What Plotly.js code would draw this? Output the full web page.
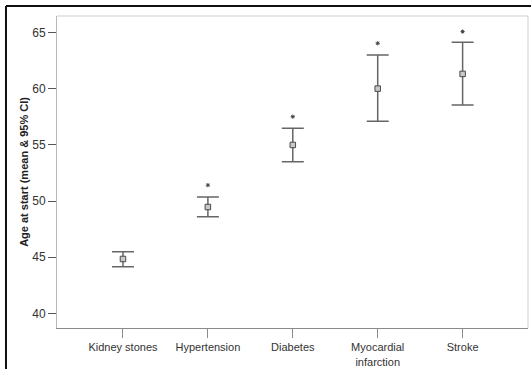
<!DOCTYPE html>
<html>
<head>
<meta charset="utf-8">
<script src="https://cdn.plot.ly/plotly-3.0.1.min.js"></script>
<style>
  html, body { margin: 0; padding: 0; background: #fff; }
  #chart { width: 531px; height: 369px; }
</style>
</head>
<body>
<div id="chart"></div>
<script>
// Data
const categories = ["Kidney stones", "Hypertension", "Diabetes", "Myocardial<br>infarction", "Stroke"];
const meanAge   = [44.84, 49.47, 55.00, 60.02, 61.33];
const ciUpper   = [45.49, 50.37, 56.49, 63.02, 64.15];
const ciLower   = [44.15, 48.61, 53.51, 57.11, 58.57];
const starCats  = ["Hypertension", "Diabetes", "Myocardial<br>infarction", "Stroke"];
const starY     = [51.42, 57.52, 64.06, 65.10];
const yTicks    = [40, 45, 50, 55, 60, 65];

const errPlus  = meanAge.map((m, i) => ciUpper[i] - m);
const errMinus = meanAge.map((m, i) => m - ciLower[i]);

const traces = [
  {
    type: "scatter", mode: "markers",
    x: categories, y: meanAge,
    marker: { symbol: "square", size: 5.5, color: "#c8c8c8", line: { color: "#4a4a4a", width: 1 } },
    error_y: { type: "data", symmetric: false, array: errPlus, arrayminus: errMinus,
               color: "#666", thickness: 1.5, width: 11 },
    hoverinfo: "x+y", showlegend: false
  },
  {
    type: "scatter", mode: "markers",
    x: starCats, y: starY,
    marker: { symbol: "asterisk-open", size: 3.5, color: "#444", line: { color: "#444", width: 1 } },
    hoverinfo: "skip", showlegend: false
  }
];

const layout = {
  width: 531, height: 369,
  margin: { l: 57, r: 3, t: 16, b: 41 },
  paper_bgcolor: "#fff", plot_bgcolor: "#fff",
  font: { family: "Liberation Sans, Arial, sans-serif", color: "#333" },
  showlegend: false,
  xaxis: {
    type: "category",
    categoryorder: "array", categoryarray: categories,
    range: [-0.777, 4.77],
    showgrid: false, zeroline: false,
    showline: true, linecolor: "#8a8a8a", linewidth: 1,
    ticks: "outside", ticklen: 9, tickcolor: "#8a8a8a", tickwidth: 1,
    tickfont: { size: 11, color: "#333" }
  },
  yaxis: {
    range: [38.69, 66.49],
    tickvals: yTicks,
    showgrid: false, zeroline: false,
    showline: true, linecolor: "#b8b8b8", linewidth: 1,
    ticks: "outside", ticklen: 8, tickcolor: "#555", tickwidth: 1,
    tickfont: { size: 12, color: "#333" },
    title: { text: "<b>Age at start (mean &amp; 95% CI)</b>", font: { size: 11, color: "#222" }, standoff: 1 }
  },
  shapes: [
    // light plot frame top and right
    { type: "line", xref: "paper", yref: "paper", x0: 0, x1: 1, y0: 1, y1: 1, line: { color: "#cfcfcf", width: 1 } },
    { type: "line", xref: "paper", yref: "paper", x0: 1, x1: 1, y0: 0, y1: 1, line: { color: "#cfcfcf", width: 1 } },
    // outer black frame (left and top)
    { type: "line", xref: "paper", yref: "paper", x0: -0.1083, x1: 1.01, y0: 1.0321, y1: 1.0321, line: { color: "#111", width: 2 } },
    { type: "line", xref: "paper", yref: "paper", x0: -0.1083, x1: -0.1083, y0: -0.14, y1: 1.0321, line: { color: "#111", width: 2 } }
  ]
};

Plotly.newPlot("chart", traces, layout, { displayModeBar: false, staticPlot: true });
</script>
</body>
</html>
